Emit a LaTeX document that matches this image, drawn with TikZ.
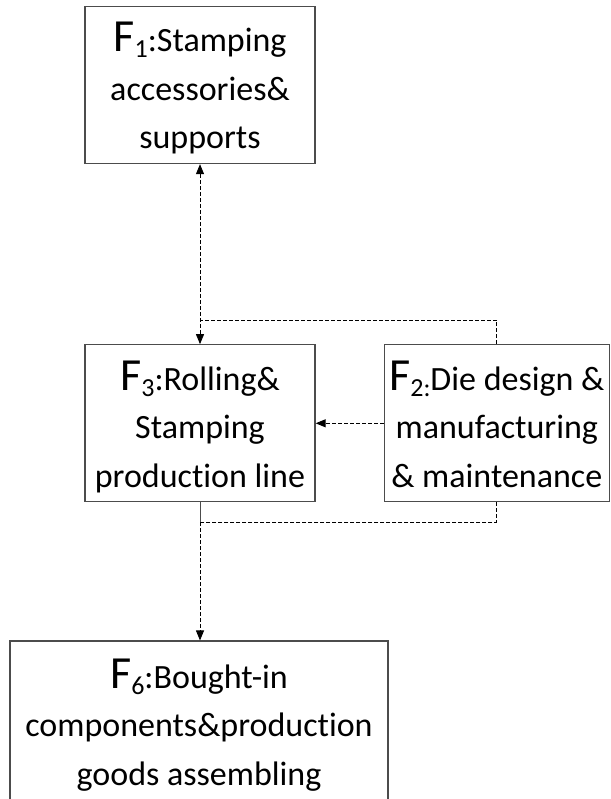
\documentclass[tikz,border=0pt]{standalone}
\usepackage{fontspec}
\setmainfont{Carlito}[Ligatures=NoCommon]
\usetikzlibrary{arrows.meta,positioning}
\newcommand{\facility}[1]{{\fontsize{46}{48}\selectfont F}\raisebox{-6pt}{\fontsize{26}{26}\selectfont #1}}

\begin{document}
\begin{tikzpicture}[
    x=1pt, y=1pt,
    >={Triangle[length=10pt,width=8pt]},
    unit/.style={rectangle, draw=black!70, line width=1.3pt, fill=white,
                 inner sep=0pt, minimum height=157pt,
                 text height=136pt, text depth=8pt,
                 align=center, font=\fontsize{34}{48.5}\selectfont},
    link/.style={black, line width=0.9pt},
    dlink/.style={link, dash pattern=on 4pt off 2pt}
  ]
  \useasboundingbox (0,0) rectangle (610,-799);

  \node[unit, minimum width=230pt] (f1) at (200,-85)
    {\facility{1}:Stamping\\accessories\&\\supports};
  \node[unit, minimum width=230pt, below=180pt of f1] (f3)
    {\facility{3}:Rolling\&\\Stamping\\production line};
  \node[unit, minimum width=225pt, right=68pt of f3] (f2)
    {\facility{2:}Die design \&\\manufacturing\\\& maintenance};
  \node[unit, minimum width=378pt, minimum height=160pt,
        below=138pt of f3, xshift=-1pt] (f6)
    {\facility{6}:Bought-in\\components\&production\\goods assembling};

  \coordinate (jt) at (200,-320);
  \coordinate (jb) at (200,-522);

  \draw[dlink, <->] (f1.south) -- (f3.north);
  \draw[dlink] (f2.north) |- (jt);
  \draw[dlink, ->] (f2.west) -- (f3.east);
  \draw[link, black!70] (f3.south) -- (jb);
  \draw[dlink, ->] (jb) -- (jb |- f6.north);
  \draw[dlink] (f2.south) |- (jb);
\end{tikzpicture}
\end{document}
